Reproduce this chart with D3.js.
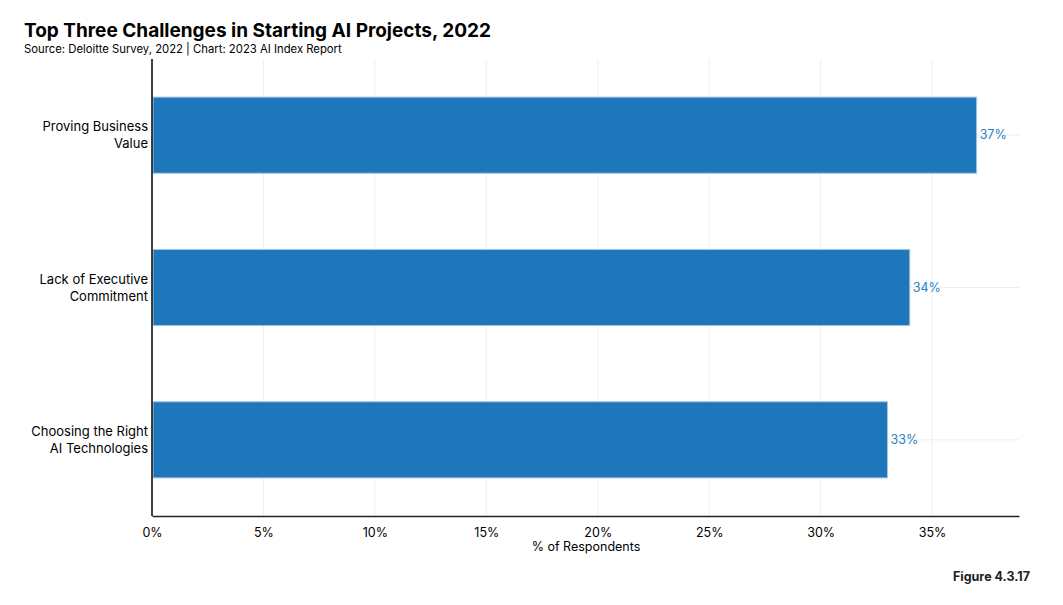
<!DOCTYPE html>
<html lang="en">
  <head>
    <meta charset="utf-8">
    <title>Top Three Challenges in Starting AI Projects, 2022</title>
    <script src="https://d3js.org/d3.v7.min.js"></script>
    <style>
      body { margin: 0; background: #fff; }
      text { font-family: Inter, "Noto Sans", sans-serif; }
    </style>
  </head>
  <body>
    <script>
      // data
      let categories = ["Proving Business Value", "Lack of Executive Commitment", "Choosing the Right AI Technologies"];
      let labelLines = [["Proving Business", "Value"], ["Lack of Executive", "Commitment"], ["Choosing the Right", "AI Technologies"]];
      let values = [37, 34, 33];
      let ticks = [0, 5, 10, 15, 20, 25, 30, 35];

      let W = 1063, H = 605;
      let margin = {top: 59, right: 44, bottom: 89, left: 152};
      let width = W - margin.left - margin.right,
          height = H - margin.top - margin.bottom;

      let svg = d3.select("body").append("svg")
        .attr("width", W).attr("height", H);

      svg.append("text").attr("x", 24).attr("y", 37)
        .attr("font-size", 19).attr("font-weight", 700).attr("fill", "#000")
        .text("Top Three Challenges in Starting AI Projects, 2022");
      svg.append("text").attr("x", 24).attr("y", 53)
        .attr("font-size", 11.3).attr("fill", "#000")
        .text("Source: Deloitte Survey, 2022 | Chart: 2023 AI Index Report");

      let g = svg.append("g").attr("transform", "translate(" + margin.left + "," + margin.top + ")");

      let x = d3.scaleLinear().domain([0, 38.9]).range([0, width]);
      let y = d3.scaleBand().domain(categories).range([0, height]).paddingInner(0.5).paddingOuter(0.25);

      // grid
      g.selectAll(".vgrid").data(ticks.slice(1)).enter().append("line")
        .attr("x1", d => x(d)).attr("x2", d => x(d))
        .attr("y1", 0).attr("y2", height)
        .attr("stroke", "#eee").attr("stroke-width", 1);
      g.selectAll(".hgrid").data(categories).enter().append("line")
        .attr("x1", 0).attr("x2", width)
        .attr("y1", d => y(d) + y.bandwidth() / 2).attr("y2", d => y(d) + y.bandwidth() / 2)
        .attr("stroke", "#eee").attr("stroke-width", 1);

      // bars
      g.selectAll(".bar").data(values).enter().append("rect")
        .attr("x", x(0) + 1)
        .attr("y", (d, i) => y(categories[i]))
        .attr("width", d => x(d) - x(0) - 1)
        .attr("height", y.bandwidth())
        .attr("fill", "#1f77bb")
        .attr("stroke", "#a9c8e4").attr("stroke-width", 1);

      g.selectAll(".val").data(values).enter().append("text")
        .attr("x", d => x(d) + 3)
        .attr("y", (d, i) => y(categories[i]) + y.bandwidth() / 2 + 4)
        .attr("font-size", 12.5).attr("fill", "#2a7fc4")
        .text(d => d + "%");

      // category labels
      let lab = g.selectAll(".cat").data(labelLines).enter().append("text")
        .attr("text-anchor", "end").attr("font-size", 13).attr("fill", "#000")
        .attr("transform", (d, i) => "translate(-4," + (y(categories[i]) + y.bandwidth() / 2) + ")");
      lab.selectAll("tspan").data(d => d).enter().append("tspan")
        .attr("x", 0).attr("y", (d, j) => j === 0 ? -4 : 13)
        .text(d => d);

      // axes
      g.append("line").attr("x1", 0).attr("x2", 0).attr("y1", 0).attr("y2", height)
        .attr("stroke", "#000").attr("stroke-width", 1.5);
      let xa = g.append("g").attr("transform", "translate(0," + height + ")")
        .call(d3.axisBottom(x).tickValues(ticks).tickSize(0).tickPadding(12).tickFormat(d => d + "%"));
      xa.select(".domain").attr("stroke", "#222").attr("stroke-width", 1.5);
      xa.selectAll("text").attr("font-size", 12.5).attr("fill", "#000").style("font-family", "Inter, sans-serif");

      g.append("text").attr("x", 434).attr("y", height + 35)
        .attr("text-anchor", "middle").attr("font-size", 12.5).attr("fill", "#000")
        .text("% of Respondents");

      svg.append("text").attr("x", 1030).attr("y", 581)
        .attr("text-anchor", "end").attr("font-size", 12.5).attr("font-weight", 700).attr("fill", "#222")
        .text("Figure 4.3.17");
    </script>
  </body>
</html>
